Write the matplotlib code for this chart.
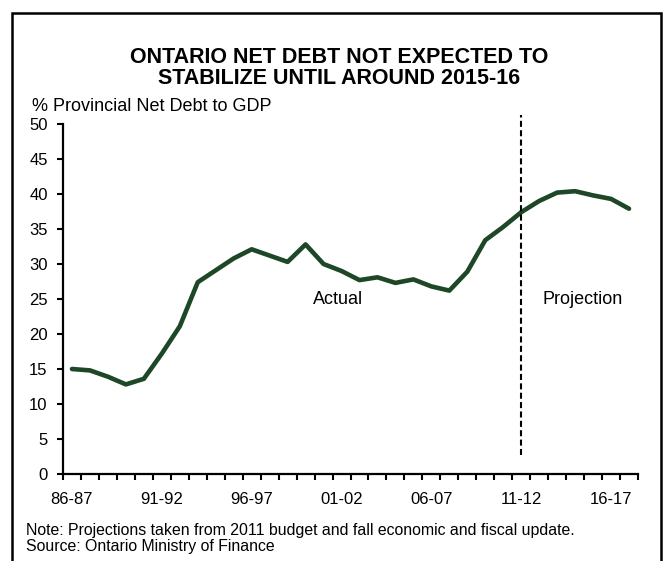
import numpy as np
import matplotlib
matplotlib.use("Agg")
import matplotlib.pyplot as plt
from matplotlib.patches import Rectangle

plt.rcParams['font.family'] = ['Liberation Sans', 'DejaVu Sans']

# Fiscal years 86-87 .. 17-18
YEARS = ["%02d-%02d" % (y % 100, (y + 1) % 100) for y in range(1986, 2018)]
# % Provincial net debt to GDP
DEBT_TO_GDP = [15.0, 14.8, 13.9, 12.8, 13.6, 17.2, 21.1, 27.4, 29.1, 30.8,
               32.1, 31.2, 30.3, 32.8, 30.0, 29.0, 27.7, 28.1, 27.3, 27.8,
               26.8, 26.2, 28.9, 33.4, 35.3, 37.4, 39.0, 40.2, 40.4, 39.8,
               39.3, 37.9]
LABEL_EVERY = 5
SPLIT_YEAR = "11-12"

TITLE_1 = "ONTARIO NET DEBT NOT EXPECTED TO"
TITLE_2 = "STABILIZE UNTIL AROUND 2015-16"
Y_TITLE = "% Provincial Net Debt to GDP"
NOTE = "Note: Projections taken from 2011 budget and fall economic and fiscal update."
SOURCE = "Source: Ontario Ministry of Finance"

W, H = 664, 561
fig = plt.figure(figsize=(W / 100, H / 100), dpi=100)

def fx(px):
    return px / W

def fy(py):
    return 1 - py / H

# axes box in pixels: left 63, right 638, top 124, bottom 474
ax = fig.add_axes([fx(63), fy(474), fx(638) - fx(63), fy(124) - fy(474)])

x = np.arange(len(YEARS))
ax.plot(x, DEBT_TO_GDP, color='#1d4726', lw=3.3, solid_joinstyle='round',
        solid_capstyle='round', clip_on=False)

split = YEARS.index(SPLIT_YEAR)
ax.plot([split, split], [2.7, 51.3], color='black', lw=1.5,
        dashes=(2.9, 1.6), clip_on=False)

ax.text(14.8, 25, "Actual", ha='center', va='center', fontsize=13)
ax.text(28.4, 25, "Projection", ha='center', va='center', fontsize=13)

ax.set_xlim(-0.5, len(YEARS) - 0.5)
ax.set_ylim(0, 50)

for s in ['top', 'right']:
    ax.spines[s].set_visible(False)
for s in ['left', 'bottom']:
    ax.spines[s].set_linewidth(1.6)

ax.set_yticks(np.arange(0, 51, 5))
ax.tick_params(axis='y', direction='out', length=4.5, width=1.5, pad=6.5,
               labelsize=12)

# tick marks on category boundaries, labels on every 5th category
ax.set_xticks(np.arange(-0.5, len(YEARS), 1))
ax.set_xticklabels([])
ax.tick_params(axis='x', which='major', direction='out', length=4.5, width=1.5)
ax.set_xticks(x[::LABEL_EVERY], minor=True)
ax.set_xticklabels(YEARS[::LABEL_EVERY], minor=True)
ax.tick_params(axis='x', which='minor', length=0, pad=13, labelsize=12)

fig.text(fx(339), fy(63), TITLE_1, ha='center', va='baseline',
         fontsize=15.5, fontweight='bold')
fig.text(fx(339), fy(84), TITLE_2, ha='center', va='baseline',
         fontsize=15.5, fontweight='bold')
fig.text(fx(32), fy(111), Y_TITLE, ha='left', va='baseline', fontsize=13)
fig.text(fx(26), fy(535), NOTE, ha='left', va='baseline', fontsize=11.4)
fig.text(fx(26), fy(551), SOURCE, ha='left', va='baseline', fontsize=11.4)

# outer frame
fig.patches.append(Rectangle((fx(12), fy(600)), fx(661) - fx(12),
                             fy(13) - fy(600), transform=fig.transFigure,
                             fill=False, edgecolor='black', lw=1.8))

fig.savefig("out.png", dpi=100)
